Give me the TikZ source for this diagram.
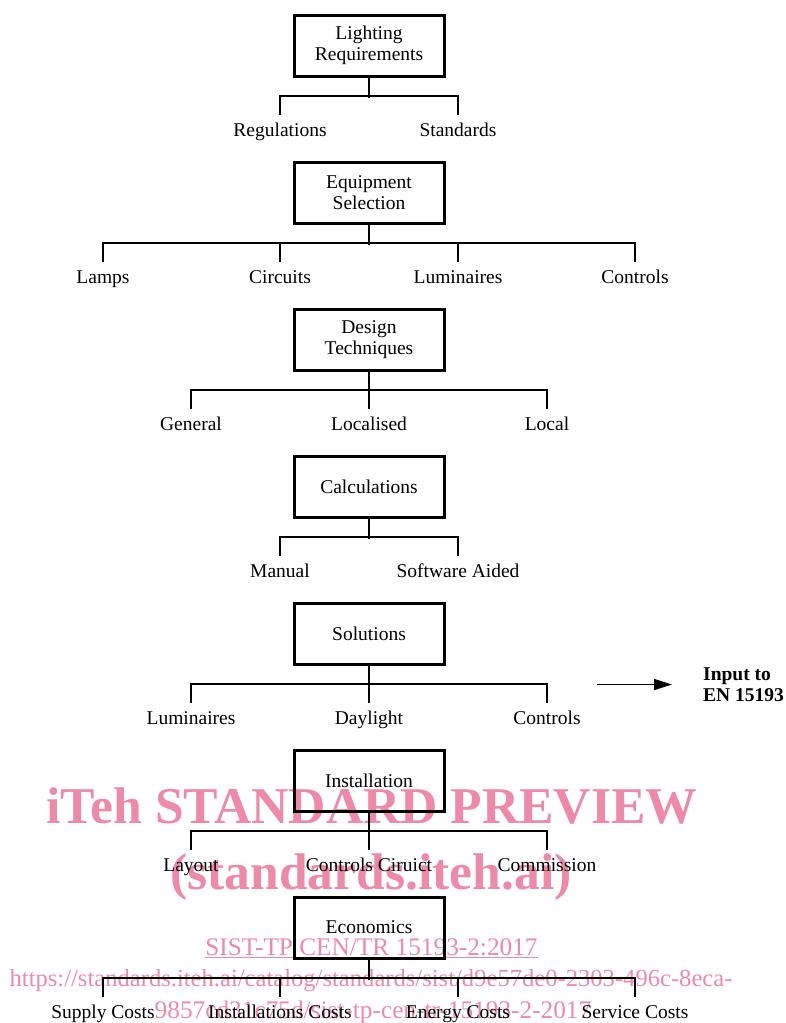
\documentclass[tikz,border=0pt]{standalone}
\usepackage{fontspec}
\setmainfont{Liberation Serif}
\usetikzlibrary{arrows.meta}
\definecolor{wm}{RGB}{236,138,168}
\begin{document}
\begin{tikzpicture}[x=1pt,y=-1pt,
  box/.style={draw, line width=3pt, minimum width=150pt, minimum height=61pt, inner sep=0pt, align=center, font=\fontsize{19.5}{21.5}\selectfont},
  lbl/.style={anchor=base, font=\fontsize{19.5}{21.5}\selectfont, inner xsep=0pt, inner ysep=7pt, text height=14pt, text depth=5pt},
  conn/.style={line width=2pt},
  arr/.style={line width=1.5pt, -{Triangle[length=18pt,width=11pt]}},
  note/.style={anchor=west, align=left, inner sep=0pt, font=\fontsize{19.5}{21}\selectfont\bfseries},
  wmbig/.style={text=wm, font=\fontsize{51.6}{51.6}\selectfont\bfseries, anchor=base, inner sep=0pt},
  wmsmall/.style={text=wm, font=\fontsize{25.3}{25.3}\selectfont, anchor=base, inner sep=0pt}]
\useasboundingbox (0,0) rectangle (785,1023);
% watermark (underneath)
\node[wmbig] (w1) at (372,823) {iTeh STANDARD PREVIEW};
\node[wmbig] (w2) at (371,889) {(standards.iteh.ai)};
\node[wmsmall] (w3) at (371.5,955) {\underline{SIST-TP CEN/TR 15193-2:2017}};
\node[wmsmall, font=\fontsize{24.6}{24.6}\selectfont] (w4) at (371,986) {https://standards.iteh.ai/catalog/standards/sist/d9e57de0-2303-496c-8eca-};
\node[wmsmall] (w5) at (373,1018) {9857cd31c75d/sist-tp-cen-tr-15193-2-2017};
% level 1
\node[box] (b1) at (369,45.5) {Lighting\\Requirements};
\node[lbl] (l11) at (280,136) {Regulations};
\node[lbl] (l12) at (458,136) {Standards};
\draw[conn] (b1.south) -- ++(0,20);
\draw[conn] (l11.north) -- ++(0,-19) -| (l12.north);
% level 2
\node[box] (b2) at (369,192.5) {Equipment\\Selection};
\node[lbl] (l21) at (103,283) {Lamps};
\node[lbl] (l22) at (280,283) {Circuits};
\node[lbl] (l23) at (458,283) {Luminaires};
\node[lbl] (l24) at (635,283) {Controls};
\draw[conn] (b2.south) -- ++(0,20);
\draw[conn] (l21.north) -- ++(0,-19) -| (l24.north);
\draw[conn] (l22.north) -- ++(0,-19);
\draw[conn] (l23.north) -- ++(0,-19);
% level 3
\node[box] (b3) at (369,339.5) {Design\\Techniques};
\node[lbl] (l31) at (191,430) {General};
\node[lbl] (l32) at (369,430) {Localised};
\node[lbl] (l33) at (547,430) {Local};
\draw[conn] (b3.south) -- (l32.north);
\draw[conn] (l31.north) -- ++(0,-19) -| (l33.north);
% level 4
\node[box] (b4) at (369,486.5) {Calculations};
\node[lbl] (l41) at (280,577) {Manual};
\node[lbl] (l42) at (458,577) {Software Aided};
\draw[conn] (b4.south) -- ++(0,20);
\draw[conn] (l41.north) -- ++(0,-19) -| (l42.north);
% level 5
\node[box] (b5) at (369,633.5) {Solutions};
\node[lbl] (l51) at (191,724) {Luminaires};
\node[lbl] (l52) at (369,724) {Daylight};
\node[lbl] (l53) at (547,724) {Controls};
\draw[conn] (b5.south) -- (l52.north);
\draw[conn] (l51.north) -- ++(0,-19) -| (l53.north);
% note with arrow
\node[note] (inp) at (703,684.5) {Input to\\EN 15193};
\coordinate (a0) at (597,684.5);
\draw[arr] (a0) -- ([xshift=-31pt]inp.west);
% level 6
\node[box] (b6) at (369,780.5) {Installation};
\node[lbl] (l61) at (191,871) {Layout};
\node[lbl] (l62) at (369,871) {Controls Ciruict};
\node[lbl] (l63) at (547,871) {Commission};
\draw[conn] (b6.south) -- (l62.north);
\draw[conn] (l61.north) -- ++(0,-19) -| (l63.north);
% level 7
\node[box] (b7) at (369,927.5) {Economics};
\node[lbl] (l71) at (103,1018) {Supply Costs};
\node[lbl] (l72) at (280,1018) {Installations Costs};
\node[lbl] (l73) at (458,1018) {Energy Costs};
\node[lbl] (l74) at (635,1018) {Service Costs};
\draw[conn] (b7.south) -- ++(0,20);
\draw[conn] (l71.north) -- ++(0,-19) -| (l74.north);
\draw[conn] (l72.north) -- ++(0,-19);
\draw[conn] (l73.north) -- ++(0,-19);
\end{tikzpicture}
\end{document}
